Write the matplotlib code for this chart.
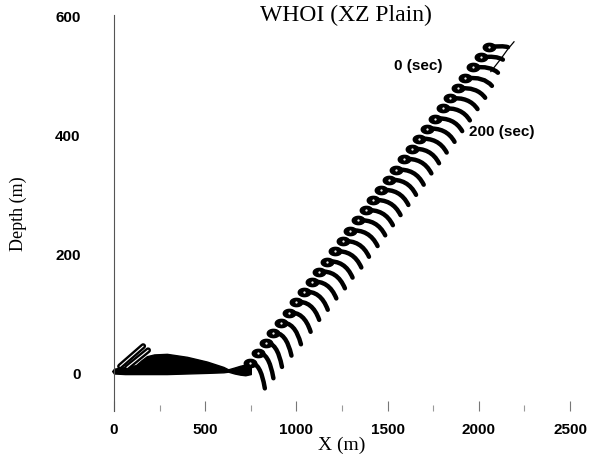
import numpy as np
import matplotlib
matplotlib.use("Agg")
import matplotlib.pyplot as plt
from matplotlib.path import Path
from matplotlib.patches import PathPatch

# hook heads along the diagonal (x in m, depth in m), bottom to top
head_x = [747, 789, 831, 873, 915, 958, 1000, 1042, 1084, 1126, 1168, 1211,
          1253, 1295, 1337, 1379, 1421, 1464, 1506, 1548, 1590, 1632, 1674,
          1717, 1759, 1801, 1843, 1885, 1927, 1970, 2012, 2055]
head_z = [15, 32, 49, 66, 83, 100, 118, 135, 152, 169, 186, 203, 220, 238,
          255, 272, 289, 306, 323, 340, 358, 375, 392, 409, 426, 443, 460,
          477, 494, 512, 529, 546]
# tail end of each hook, relative to its head
end_dx = [80, 85, 90, 100, 110, 120, 125, 130, 135, 140, 140, 145, 145, 150,
          150, 150, 150, 150, 150, 150, 150, 150, 150, 150, 150, 150, 150,
          150, 145, 135, 120, 105]
end_dz = [-42, -42, -40, -38, -36, -32, -30, -30, -28, -28, -27, -27, -26,
          -26, -25, -25, -25, -25, -25, -25, -24, -24, -23, -22, -21, -20,
          -18, -16, -13, -9, -4, 0]

# dense cable shapes near the surface
blob_x = [-10, 0, 60, 120, 150, 180, 220, 290, 400, 510, 600, 626, 660, 692, 720, 750]
blob_top = [2, 6, 9, 12, 20, 27, 30, 31, 26, 18, 9, 5, 8, 11, 13, 12]
blob_bot = [2, -2, -3, -3, -3, -3, -3, -3, -2, -1, 0, 1, -2, -4, -5, -3]

ear_x = [[33, 160], [71, 187]]
ear_z = [[10, 44], [8, 37]]

# thin line through the top hook ends
top_line_x = [2066, 2120, 2160, 2193]
top_line_z = [505, 526, 543, 555]

x_ticks = [0, 500, 1000, 1500, 2000, 2500]
y_ticks = [0, 200, 400, 600]

fig = plt.figure(figsize=(5.92, 4.64), dpi=100)
ax = fig.add_axes([114 / 592, 52 / 464, 456 / 592, 396 / 464])
ax.set_xlim(0, 2500)
ax.set_ylim(-65, 600)

ax.fill_between(blob_x, blob_bot, blob_top, color="black", lw=1.0,
                edgecolor="black", clip_on=False)
for ex, ez in zip(ear_x, ear_z):
    ax.plot(ex, ez, color="black", lw=4.2, solid_capstyle="round")
    ax.plot(ex, ez, color="white", lw=0.8, solid_capstyle="round")

for hx, hz, dx, dz in zip(head_x, head_z, end_dx, end_dz):
    verts = [(hx, hz), (hx + 0.7 * dx, hz + 3), (hx + dx, hz + dz)]
    path = Path(verts, [Path.MOVETO, Path.CURVE3, Path.CURVE3])
    ax.add_patch(PathPatch(path, fill=False, lw=3.2, ec="black", capstyle="round"))

# heads drawn as flat dark blobs
ellipse = np.column_stack([np.cos(np.linspace(0, 2 * np.pi, 30)) * 1.5,
                           np.sin(np.linspace(0, 2 * np.pi, 30))])
ax.plot(head_x, head_z, ls="none", marker=ellipse, ms=9, color="black")
ax.plot(head_x, head_z, ".", ms=1.2, color="white")
ax.plot(top_line_x, top_line_z, color="black", lw=0.9)

bold = dict(family="Liberation Sans", weight="bold", fontsize=11)
ax.text(1533, 516, "0 (sec)", ha="left", va="center", **bold)
ax.text(1945, 405, "200 (sec)", ha="left", va="center", **bold)

for s in ["top", "right", "bottom"]:
    ax.spines[s].set_visible(False)
ax.spines["left"].set_color("#555555")
ax.spines["left"].set_linewidth(0.8)

ax.set_xticks(x_ticks)
ax.set_xticks(np.arange(250, 2500, 500), minor=True)
ax.set_yticks(y_ticks)
ax.tick_params(axis="x", which="major", direction="in", length=7, width=0.8,
               color="#777777", pad=8)
ax.tick_params(axis="x", which="minor", direction="in", length=4, width=0.8,
               color="#999999")
ax.tick_params(axis="y", length=0, pad=24)
for lab in ax.get_xticklabels() + ax.get_yticklabels():
    lab.set_fontfamily("Liberation Sans")
    lab.set_fontweight("bold")
    lab.set_fontsize(11)

ax.set_xlabel("X (m)", family="Liberation Serif", fontsize=14, labelpad=0)
ax.set_ylabel("Depth (m)", family="Liberation Serif", fontsize=13, labelpad=20)
fig.text(346 / 592, 1 - 15 / 464, "WHOI (XZ Plain)", ha="center", va="center",
         family="Liberation Serif", fontsize=17)

fig.savefig("out.png", dpi=100)
